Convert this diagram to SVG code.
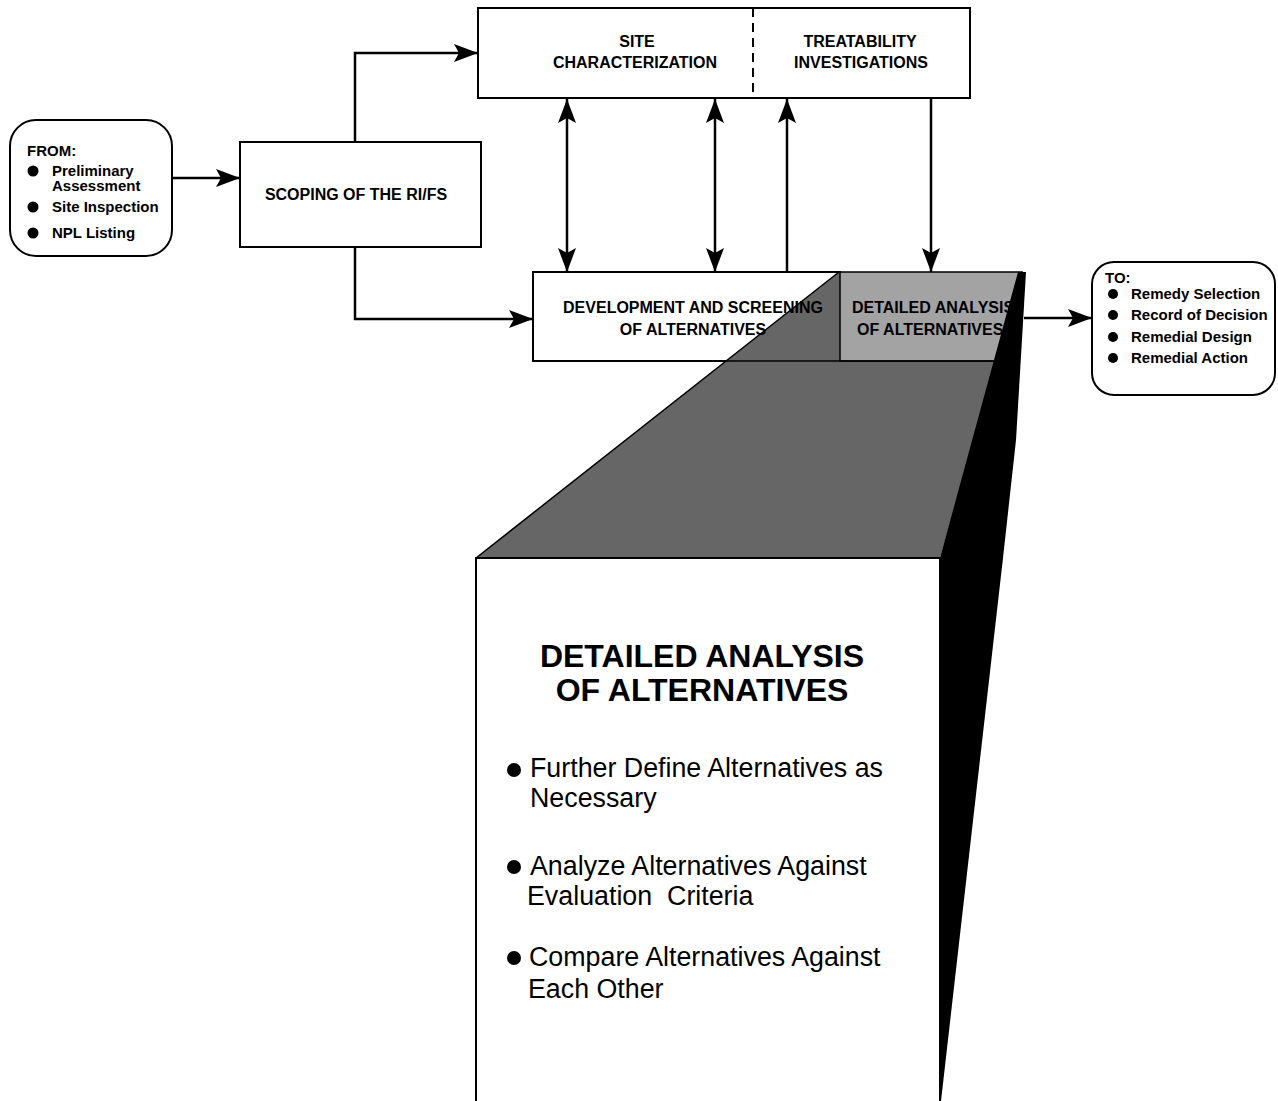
<svg xmlns="http://www.w3.org/2000/svg" width="1278" height="1101" viewBox="0 0 1278 1101">
<style>
.t{font-family:"Liberation Sans",Arial,sans-serif;fill:#000}
.b16{font-size:16px;font-weight:bold}
.b15{font-size:15px;font-weight:bold}
.box{fill:#fff;stroke:#000;stroke-width:2}
.ln{fill:none;stroke:#000;stroke-width:2.5}
.big{font-size:26.8px}
.title{font-size:32px;font-weight:bold}
</style>
<defs>
<marker id="ah" viewBox="0 0 24 18" refX="24" refY="9" markerWidth="24" markerHeight="18" markerUnits="userSpaceOnUse" orient="auto-start-reverse">
<path d="M0,0 L24,9 L0,18 L5,9 z" fill="#000"/>
</marker>
</defs>
<rect width="1278" height="1101" fill="#fff"/>

<g id="from">
<rect class="box" x="10" y="120" width="162" height="136" rx="26"/>
<text class="t b15" x="27" y="156">FROM:</text>
<circle cx="33" cy="171" r="5.5"/>
<text class="t b15" x="52" y="176">Preliminary</text>
<text class="t b15" x="52" y="191">Assessment</text>
<circle cx="33" cy="207" r="5.5"/>
<text class="t b15" x="52" y="212">Site Inspection</text>
<circle cx="33" cy="233" r="5.5"/>
<text class="t b15" x="52" y="238">NPL Listing</text>
</g>

<g id="scoping">
<rect class="box" x="240" y="142" width="241" height="105"/>
<text class="t b16" x="356" y="200" text-anchor="middle">SCOPING OF THE RI/FS</text>
</g>

<g id="site">
<rect class="box" x="478" y="8" width="492" height="90"/>
<line x1="753" y1="8" x2="753" y2="98" stroke="#000" stroke-width="2" stroke-dasharray="9,6"/>
<text class="t b16" x="637" y="47" text-anchor="middle">SITE</text>
<text class="t b16" x="635" y="68" text-anchor="middle">CHARACTERIZATION</text>
<text class="t b16" x="860" y="47" text-anchor="middle">TREATABILITY</text>
<text class="t b16" x="861" y="68" text-anchor="middle">INVESTIGATIONS</text>
</g>

<g id="dev">
<rect class="box" x="533" y="272" width="307" height="89"/>
</g>

<g id="detailed">
<polygon points="839,272 1022,272 940,558 476,558" fill="#666"/>
<polygon points="840,272 1022,272 997,361 840,361" fill="#a3a3a3" stroke="#000" stroke-width="1.5"/>
<line x1="533" y1="361" x2="1000" y2="361" stroke="#000" stroke-width="1.5"/>
<line x1="839" y1="272" x2="476" y2="558" stroke="#000" stroke-width="1.5"/>
<text class="t b16" x="852" y="313" fill="#1a1a1a">DETAILED ANALYSIS</text>
<text class="t b16" x="857" y="335" fill="#1a1a1a">OF ALTERNATIVES</text>
<polygon points="1018,272 1026,272 1016,440 1003,558 941,1101 940,1101 940,558" fill="#000"/>
<rect x="476" y="558" width="464" height="560" fill="#fff" stroke="#000" stroke-width="2"/>
<text class="t title" x="702" y="667" text-anchor="middle">DETAILED ANALYSIS</text>
<text class="t title" x="702" y="701" text-anchor="middle">OF ALTERNATIVES</text>
<circle cx="514" cy="770" r="7"/>
<text class="t big" x="530" y="777">Further Define Alternatives as</text>
<text class="t big" x="530" y="807">Necessary</text>
<circle cx="514" cy="867" r="7"/>
<text class="t big" x="530" y="875">Analyze Alternatives Against</text>
<text class="t big" x="527" y="905" xml:space="preserve">Evaluation  Criteria</text>
<circle cx="514" cy="958" r="7"/>
<text class="t big" x="529" y="966">Compare Alternatives Against</text>
<text class="t big" x="528" y="998">Each Other</text>
</g>

<g id="dev-text">
<text class="t b16" x="693" y="313" text-anchor="middle">DEVELOPMENT AND SCREENING</text>
<text class="t b16" x="693" y="335" text-anchor="middle">OF ALTERNATIVES</text>
</g>

<g id="to">
<rect class="box" x="1092" y="262" width="183" height="133" rx="22"/>
<text class="t b15" x="1105" y="283">TO:</text>
<circle cx="1113" cy="294" r="5"/>
<text class="t b15" x="1131" y="299">Remedy Selection</text>
<circle cx="1113" cy="315" r="5"/>
<text class="t b15" x="1131" y="320">Record of Decision</text>
<circle cx="1113" cy="337" r="5"/>
<text class="t b15" x="1131" y="342">Remedial Design</text>
<circle cx="1113" cy="358" r="5"/>
<text class="t b15" x="1131" y="363">Remedial Action</text>
</g>

<g id="connectors">
<line class="ln" x1="172" y1="178" x2="240" y2="178" marker-end="url(#ah)"/>
<polyline class="ln" points="355,142 355,53 478,53" marker-end="url(#ah)"/>
<polyline class="ln" points="355,247 355,319 533,319" marker-end="url(#ah)"/>
<line class="ln" x1="567" y1="99" x2="567" y2="272" marker-start="url(#ah)" marker-end="url(#ah)"/>
<line class="ln" x1="715" y1="99" x2="715" y2="272" marker-start="url(#ah)" marker-end="url(#ah)"/>
<line class="ln" x1="787" y1="272" x2="787" y2="99" marker-end="url(#ah)"/>
<line class="ln" x1="931" y1="98" x2="931" y2="272" marker-end="url(#ah)"/>
<line class="ln" x1="1024" y1="318" x2="1092" y2="318" marker-end="url(#ah)"/>
</g>
</svg>
